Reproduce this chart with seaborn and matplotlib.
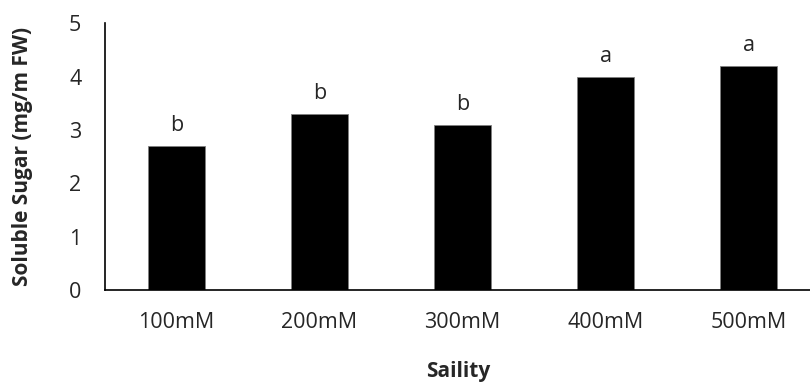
import pandas as pd
import matplotlib
matplotlib.use('Agg')
import matplotlib.pyplot as plt
import seaborn as sns

# 데이터
salinity = ['100mM', '200mM', '300mM', '400mM', '500mM']
sugar = [2.7, 3.3, 3.1, 4.0, 4.2]
letters = ['b', 'b', 'b', 'a', 'a']

df = pd.DataFrame({'Salinity': salinity, 'Sugar': sugar})

sns.set_style('white')
plt.rcParams['font.family'] = ['Open Sans', 'DejaVu Sans']

fig = plt.figure(figsize=(8.1, 3.83), dpi=100)
ax = fig.add_axes([0.1296, 0.2428, 0.8704, 0.6963])

sns.barplot(data=df, x='Salinity', y='Sugar', color='black', width=0.4,
            edgecolor='#808080', linewidth=0.6, ax=ax)

# 유의성 문자
for i, (v, t) in enumerate(zip(sugar, letters)):
    ax.annotate(t, (i, v), xytext=(0, 7), textcoords='offset points',
                ha='center', va='bottom', fontsize=15.5)

ax.set_xlim(-0.5, 4.43)
ax.set_ylim(0, 5)
ax.set_yticks(range(0, 6))
ax.tick_params(axis='y', length=6, width=1, color='black', labelsize=15.5, pad=11)
ax.tick_params(axis='x', length=0, labelsize=15.5, pad=16)

for s in ['top', 'right']:
    ax.spines[s].set_visible(False)
for s in ['left', 'bottom']:
    ax.spines[s].set_color('black')
    ax.spines[s].set_linewidth(1.2)

ax.set_xlabel('Saility', fontsize=15, fontweight='bold')
ax.set_ylabel('Soluble Sugar (mg/m FW)', fontsize=15, fontweight='bold')
ax.xaxis.set_label_coords((458 - 105) / 705, -0.265)
ax.yaxis.set_label_coords((33 - 105) / 705, 0.5)

fig.savefig('out.png', dpi=100)
